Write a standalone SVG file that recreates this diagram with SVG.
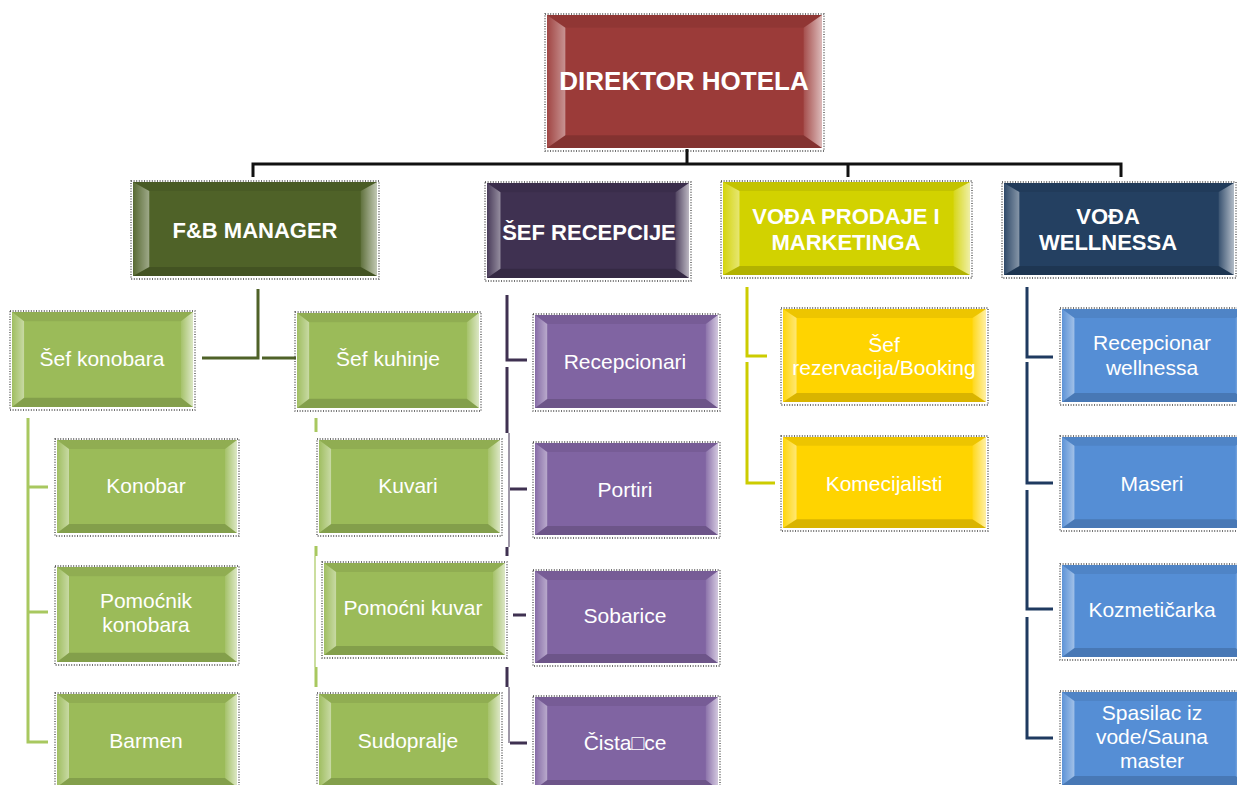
<svg xmlns="http://www.w3.org/2000/svg" xmlns:xlink="http://www.w3.org/1999/xlink" width="1237" height="785" viewBox="0 0 1237 785">
<style>
.frame{fill:none;stroke:#444;stroke-width:1.3;stroke-dasharray:1 1.6}
.red{fill:#9B3B39}.olive{fill:#4F6228}.dpur{fill:#3F3151}.dyel{fill:#D2D200}.navy{fill:#244061}
.lg{fill:#9BBB59}.pur{fill:#8064A2}.yel{fill:#FFD400}.blu{fill:#558ED5}
.h{font-family:"Liberation Sans",Arial,sans-serif;font-weight:bold;fill:#fff;text-anchor:middle}
.t{font-family:"Liberation Sans",Arial,sans-serif;font-size:21px;fill:#fff;text-anchor:middle}
.c{fill:none;stroke-width:3}
</style>
<defs>
<linearGradient id="gl" x1="0" y1="0" x2="1" y2="0"><stop offset="0" stop-color="#fff" stop-opacity="0.05"/><stop offset="1" stop-color="#fff" stop-opacity="0.45"/></linearGradient>
<linearGradient id="gr" x1="0" y1="0" x2="1" y2="0"><stop offset="0" stop-color="#fff" stop-opacity="0.1"/><stop offset="1" stop-color="#fff" stop-opacity="0.65"/></linearGradient>
<symbol id="bevel" viewBox="0 0 180 93" preserveAspectRatio="none">
<polygon points="0,0 180,0 168,9 12,9" fill="#000" fill-opacity="0.07"/>
<polygon points="0,93 180,93 168,84 12,84" fill="#000" fill-opacity="0.15"/>
<polygon points="0,0 12,9 12,84 0,93" fill="url(#gl)"/>
<polygon points="180,0 168,9 168,84 180,93" fill="url(#gr)"/>
</symbol>
</defs>
<rect width="1237" height="785" fill="#fff"/>

<g id="connectors">
<path class="c" stroke="#111" d="M253 177 V164 H1121 V177 M848 164 V177 M687 149 V164"/>
<path class="c" stroke="#4F6228" d="M202 358 H258 V289 M262 358 H296"/>
<path class="c" stroke="#A8C85F" d="M28 418 V742 H48 M28 487 H48 M28 612 H48"/>
<path class="c" stroke="#A8C85F" d="M316 418 V432 M316 546 V556 M316 667 V687"/>
<path fill="none" stroke="#A8C85F" stroke-width="1.2" d="M315 556 V667"/>
<path class="c" stroke="#3F3151" d="M507 295 V360 H527 M507 367 V433 M510 489 H527 M507 547 V556 M513 615 H526 M507 667 V687 M510 743 H527"/>
<path fill="none" stroke="#3F3151" stroke-width="1" d="M509 433 V547 M509 687 V743"/>
<path class="c" stroke="#CCCC00" d="M747 287 V356 H767 M747 362 V483 H775"/>
<path class="c" stroke="#1F3A60" d="M1027 287 V357 H1053 M1027 362 V483 H1053 M1027 490 V609 H1053 M1027 617 V738 H1053"/>
</g>

<g id="n-direktor"><rect class="frame" x="545" y="14" width="279" height="137"/><rect class="red" x="547" y="15" width="275" height="133"/><use xlink:href="#bevel" x="547" y="15" width="275" height="133"/><text class="h" x="684" y="90" font-size="26">DIREKTOR HOTELA</text></g>

<g id="n-fb"><rect class="frame" x="131" y="181" width="248" height="98"/><rect class="olive" x="133" y="182" width="244" height="94"/><use xlink:href="#bevel" x="133" y="182" width="244" height="94"/><text class="h" x="255" y="238" font-size="22">F&amp;B MANAGER</text></g>
<g id="n-recepcija"><rect class="frame" x="485" y="182" width="206" height="99"/><rect class="dpur" x="487" y="183" width="202" height="95"/><use xlink:href="#bevel" x="487" y="183" width="202" height="95"/><text class="h" x="589" y="240" font-size="22">ŠEF RECEPCIJE</text></g>
<g id="n-prodaja"><rect class="frame" x="721" y="181" width="251" height="97"/><rect class="dyel" x="723" y="182" width="247" height="93"/><use xlink:href="#bevel" x="723" y="182" width="247" height="93"/><text class="h" x="846" y="224" font-size="22">VOĐA PRODAJE I</text><text class="h" x="846" y="250" font-size="22">MARKETINGA</text></g>
<g id="n-wellness"><rect class="frame" x="1002" y="182" width="234" height="96"/><rect class="navy" x="1004" y="183" width="230" height="92"/><use xlink:href="#bevel" x="1004" y="183" width="230" height="92"/><text class="h" x="1108" y="224" font-size="22">VOĐA</text><text class="h" x="1108" y="250" font-size="22">WELLNESSA</text></g>

<g id="n-sef-konobara"><rect class="frame" x="10" y="311" width="185" height="99"/><rect class="lg" x="12" y="312" width="181" height="95"/><use xlink:href="#bevel" x="12" y="312" width="181" height="95"/><text class="t" x="102" y="366">Šef konobara</text></g>
<g id="n-sef-kuhinje"><rect class="frame" x="295" y="312" width="186" height="99"/><rect class="lg" x="297" y="313" width="182" height="95"/><use xlink:href="#bevel" x="297" y="313" width="182" height="95"/><text class="t" x="388" y="366">Šef kuhinje</text></g>
<g id="n-konobar"><rect class="frame" x="55" y="439" width="184" height="97"/><rect class="lg" x="57" y="440" width="180" height="93"/><use xlink:href="#bevel" x="57" y="440" width="180" height="93"/><text class="t" x="146" y="493">Konobar</text></g>
<g id="n-pomocnik"><rect class="frame" x="55" y="566" width="184" height="99"/><rect class="lg" x="57" y="567" width="180" height="95"/><use xlink:href="#bevel" x="57" y="567" width="180" height="95"/><text class="t" x="146" y="608">Pomoćnik</text><text class="t" x="146" y="632">konobara</text></g>
<g id="n-barmen"><rect class="frame" x="55" y="693" width="184" height="97"/><rect class="lg" x="57" y="694" width="180" height="93"/><use xlink:href="#bevel" x="57" y="694" width="180" height="93"/><text class="t" x="146" y="748">Barmen</text></g>
<g id="n-kuvari"><rect class="frame" x="317" y="439" width="185" height="97"/><rect class="lg" x="319" y="440" width="181" height="93"/><use xlink:href="#bevel" x="319" y="440" width="181" height="93"/><text class="t" x="408" y="493">Kuvari</text></g>
<g id="n-pomocni-kuvar"><rect class="frame" x="322" y="562" width="185" height="96"/><rect class="lg" x="324" y="563" width="181" height="92"/><use xlink:href="#bevel" x="324" y="563" width="181" height="92"/><text class="t" x="413" y="615">Pomoćni kuvar</text></g>
<g id="n-sudopralje"><rect class="frame" x="317" y="693" width="185" height="97"/><rect class="lg" x="319" y="694" width="181" height="93"/><use xlink:href="#bevel" x="319" y="694" width="181" height="93"/><text class="t" x="408" y="748">Sudopralje</text></g>

<g id="n-recepcionari"><rect class="frame" x="533" y="314" width="187" height="97"/><rect class="pur" x="535" y="315" width="183" height="93"/><use xlink:href="#bevel" x="535" y="315" width="183" height="93"/><text class="t" x="625" y="369">Recepcionari</text></g>
<g id="n-portiri"><rect class="frame" x="533" y="442" width="187" height="96"/><rect class="pur" x="535" y="443" width="183" height="92"/><use xlink:href="#bevel" x="535" y="443" width="183" height="92"/><text class="t" x="625" y="497">Portiri</text></g>
<g id="n-sobarice"><rect class="frame" x="533" y="570" width="187" height="96"/><rect class="pur" x="535" y="571" width="183" height="92"/><use xlink:href="#bevel" x="535" y="571" width="183" height="92"/><text class="t" x="625" y="623">Sobarice</text></g>
<g id="n-cistacice"><rect class="frame" x="533" y="696" width="187" height="96"/><rect class="pur" x="535" y="697" width="183" height="92"/><use xlink:href="#bevel" x="535" y="697" width="183" height="92"/><text class="t" x="625" y="750">Čista□ce</text></g>

<g id="n-booking"><rect class="frame" x="781" y="308" width="207" height="97"/><rect class="yel" x="783" y="309" width="203" height="93"/><use xlink:href="#bevel" x="783" y="309" width="203" height="93"/><text class="t" x="884" y="352">Šef</text><text class="t" x="884" y="375">rezervacija/Booking</text></g>
<g id="n-komecijalisti"><rect class="frame" x="781" y="436" width="207" height="95"/><rect class="yel" x="783" y="437" width="203" height="91"/><use xlink:href="#bevel" x="783" y="437" width="203" height="91"/><text class="t" x="884" y="491">Komecijalisti</text></g>

<g id="n-recepcionar-wellnessa"><rect class="frame" x="1060" y="308" width="190" height="97"/><rect class="blu" x="1062" y="309" width="186" height="93"/><use xlink:href="#bevel" x="1062" y="309" width="186" height="93"/><text class="t" x="1152" y="350">Recepcionar</text><text class="t" x="1152" y="375">wellnessa</text></g>
<g id="n-maseri"><rect class="frame" x="1060" y="436" width="190" height="95"/><rect class="blu" x="1062" y="437" width="186" height="91"/><use xlink:href="#bevel" x="1062" y="437" width="186" height="91"/><text class="t" x="1152" y="491">Maseri</text></g>
<g id="n-kozmeticarka"><rect class="frame" x="1060" y="564" width="190" height="96"/><rect class="blu" x="1062" y="565" width="186" height="92"/><use xlink:href="#bevel" x="1062" y="565" width="186" height="92"/><text class="t" x="1152" y="617">Kozmetičarka</text></g>
<g id="n-spasilac"><rect class="frame" x="1060" y="691" width="190" height="97"/><rect class="blu" x="1062" y="692" width="186" height="93"/><use xlink:href="#bevel" x="1062" y="692" width="186" height="93"/><text class="t" x="1152" y="720">Spasilac iz</text><text class="t" x="1152" y="744">vode/Sauna</text><text class="t" x="1152" y="768">master</text></g>
</svg>
